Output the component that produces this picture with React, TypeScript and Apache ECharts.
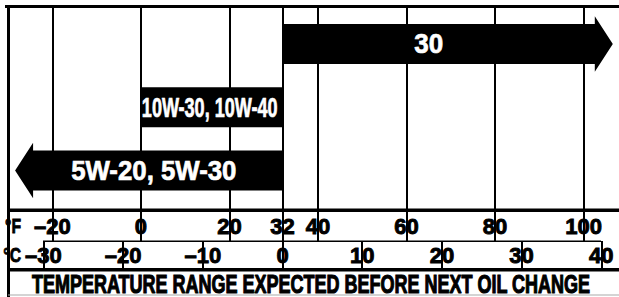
import React, { useEffect, useRef } from "react";
import * as echarts from "echarts";

// ---- data ----
const grades = ["5W-20, 5W-30", "10W-30, 10W-40", "30"];
const lowF = [-28.4, 0, 32]; // lowest expected temperature (°F), arrow tip if open
const highF = [32, 32, 106.6]; // highest expected temperature (°F), arrow tip if open
const openLow = [true, false, false];
const openHigh = [false, false, true];
const rowPos = [1, 2, 3];

const fTicks = [-20, 0, 20, 32, 40, 60, 80, 100];
const fTickLabels = ["–20", "0", "20", "32", "40", "60", "80", "100"];
const cTicks = [-30, -20, -10, 0, 10, 20, 30, 40];
const cTickLabels = ["–30", "–20", "–10", "0", "10", "20", "30", "40"];

const titleText = "TEMPERATURE RANGE EXPECTED BEFORE NEXT OIL CHANGE";

// ---- layout / style ----
const W = 619;
const H = 297;
const F_MIN = -30;
const F_MAX = 108;
const C_MIN = ((F_MIN - 32) * 5) / 9;
const C_MAX = ((F_MAX - 32) * 5) / 9;
const FONT = "Liberation Sans";
const BAR_H = 0.63;
const HEAD_HALF = 0.44;
const HEAD_LEN = 18;
const labelSize = [20, 19, 20];
const labelScaleX = [1.29, 0.95, 1.3];
const labelScaleY = [1.36, 1.47, 1.4];
const labelDx = [-4, -2, -10];

function labelFor(list: number[], labels: string[]) {
  return (v: number) => {
    const i = list.indexOf(v);
    return i >= 0 ? labels[i] : "";
  };
}

export default function App() {
  const ref = useRef<HTMLDivElement>(null);
  useEffect(() => {
    if (!ref.current) return;
    const chart = echarts.init(ref.current, undefined, { renderer: "svg" });
    const axisLabelStyle = {
      fontFamily: FONT,
      fontWeight: "bold" as const,
      fontSize: 22,
      color: "#000",
      textBorderColor: "#000",
      textBorderWidth: 0.9,
    };
    chart.setOption({
      animation: false,
      backgroundColor: "#fff",
      grid: [
        { left: 8, right: 0, top: 8, height: 202 },
        { left: 8, right: 0, top: 210, height: 31 },
        { left: 8, right: 0, top: 241, height: 28 },
      ],
      xAxis: [
        {
          gridIndex: 0,
          type: "value",
          min: F_MIN,
          max: F_MAX,
          axisLine: { show: false },
          axisTick: { show: false, customValues: fTicks },
          axisLabel: { show: false },
          splitLine: { show: true, lineStyle: { color: "#000", width: 2 } },
        },
        {
          gridIndex: 1,
          type: "value",
          min: F_MIN,
          max: F_MAX,
          position: "bottom",
          axisLine: { show: false },
          axisTick: { show: false, customValues: fTicks },
          axisLabel: {
            show: true,
            inside: true,
            margin: 4,
            customValues: fTicks,
            formatter: labelFor(fTicks, fTickLabels),
            ...axisLabelStyle,
          },
          splitLine: { show: true, lineStyle: { color: "#000", width: 2 } },
        },
        {
          gridIndex: 2,
          type: "value",
          min: C_MIN,
          max: C_MAX,
          position: "bottom",
          axisLine: { show: false },
          axisTick: { show: false, customValues: cTicks },
          axisLabel: {
            show: true,
            inside: true,
            margin: 3,
            customValues: cTicks,
            formatter: labelFor(cTicks, cTickLabels),
            ...axisLabelStyle,
          },
          splitLine: { show: true, lineStyle: { color: "#000", width: 2 } },
        },
      ],
      yAxis: [0, 1, 2].map((g) => ({
        gridIndex: g,
        type: "value",
        min: g === 0 ? 0.375 : 0,
        max: g === 0 ? 3.57 : 1,
        show: false,
        splitLine: { show: false },
      })),
      series: [
        {
          type: "custom",
          xAxisIndex: 0,
          yAxisIndex: 0,
          data: grades.map((g, i) => [lowF[i], highF[i], rowPos[i], i]),
          renderItem: (params: any, api: any) => {
            const i = api.value(3) as number;
            const lo = api.coord([api.value(0), api.value(2)]);
            const hi = api.coord([api.value(1), api.value(2)]);
            const bh = api.size([0, BAR_H])[1];
            const hh = api.size([0, HEAD_HALF])[1];
            const cy = lo[1];
            const x0 = lo[0];
            const x1 = hi[0];
            const b0 = openLow[i] ? x0 + HEAD_LEN : x0;
            const b1 = openHigh[i] ? x1 - HEAD_LEN : x1;
            const top = cy - bh / 2;
            const bot = cy + bh / 2;
            const pts: number[][] = [];
            if (openLow[i]) pts.push([x0, cy], [b0, cy - hh], [b0, top]);
            else pts.push([x0, top]);
            if (openHigh[i]) pts.push([b1, top], [b1, cy - hh], [x1, cy], [b1, cy + hh], [b1, bot]);
            else pts.push([x1, top], [x1, bot]);
            if (openLow[i]) pts.push([b0, bot], [b0, cy + hh]);
            else pts.push([x0, bot]);
            return {
              type: "group",
              children: [
                { type: "polygon", shape: { points: pts }, style: { fill: "#000" } },
                {
                  type: "text",
                  x: (b0 + b1) / 2 + labelDx[i],
                  y: cy,
                  scaleX: labelScaleX[i],
                  scaleY: labelScaleY[i],
                  style: {
                    text: grades[i],
                    fill: "#fff",
                    stroke: "#fff",
                    lineWidth: 0.5,
                    fontFamily: FONT,
                    fontWeight: "bold",
                    fontSize: labelSize[i],
                    align: "center",
                    verticalAlign: "middle",
                    textAlign: "center",
                    textVerticalAlign: "middle",
                  },
                },
              ],
            };
          },
        },
      ],
      graphic: [
        // frame & separators
        { type: "rect", shape: { x: 5, y: 5, width: 614, height: 3 }, style: { fill: "#000" }, z: 10 },
        { type: "rect", shape: { x: 7, y: 5, width: 3, height: 292 }, style: { fill: "#000" }, z: 10 },
        { type: "rect", shape: { x: 8, y: 208.5, width: 611, height: 3.5 }, style: { fill: "#000" }, z: 10 },
        { type: "rect", shape: { x: 43, y: 240.5, width: 558, height: 1.5 }, style: { fill: "#000" }, z: 10 },
        { type: "rect", shape: { x: 8, y: 268, width: 611, height: 3.5 }, style: { fill: "#000" }, z: 10 },
        { type: "rect", shape: { x: 8, y: 294.5, width: 611, height: 1 }, style: { fill: "#aaa" }, z: 10 },
        // unit labels
        {
          type: "text",
          x: 21,
          y: 226,
          scaleX: 0.75,
          z: 5,
          style: {
            text: "°F",
            fill: "#000",
            stroke: "#000",
            lineWidth: 0.8,
            fontFamily: FONT,
            fontWeight: "bold",
            fontSize: 21,
            align: "right",
            verticalAlign: "middle",
            textAlign: "right",
            textVerticalAlign: "middle",
          },
        },
        {
          type: "text",
          x: 21,
          y: 255,
          scaleX: 0.75,
          z: 5,
          style: {
            text: "°C",
            fill: "#000",
            stroke: "#000",
            lineWidth: 0.8,
            fontFamily: FONT,
            fontWeight: "bold",
            fontSize: 21,
            align: "right",
            verticalAlign: "middle",
            textAlign: "right",
            textVerticalAlign: "middle",
          },
        },
        // title
        {
          type: "text",
          x: 311,
          y: 284,
          scaleY: 1.42,
          z: 5,
          style: {
            text: titleText,
            fill: "#000",
            stroke: "#000",
            lineWidth: 0.8,
            fontFamily: FONT,
            fontWeight: "bold",
            fontSize: 18,
            align: "center",
            verticalAlign: "middle",
            textAlign: "center",
            textVerticalAlign: "middle",
          },
        },
      ],
    });
    return () => chart.dispose();
  }, []);
  return (
    <div
      ref={ref}
      style={{ position: "absolute", left: 0, top: 0, width: W, height: H }}
    />
  );
}
